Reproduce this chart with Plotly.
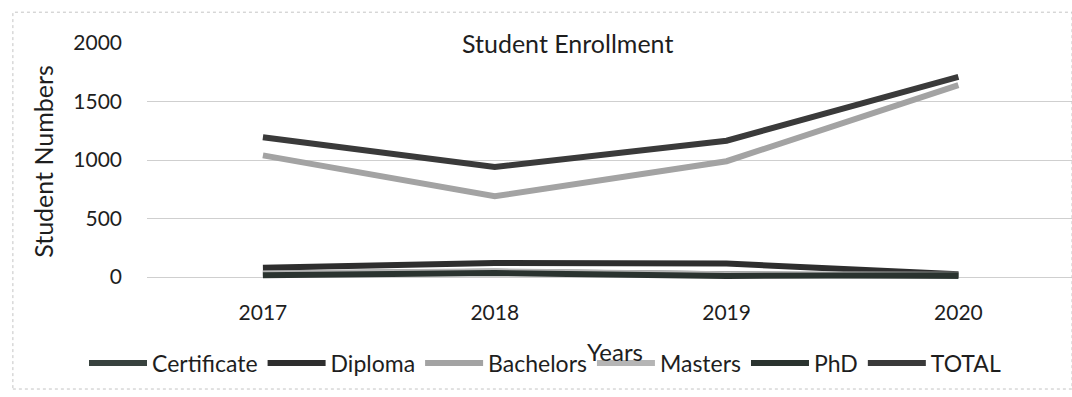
import plotly.graph_objects as go

years = ["2017", "2018", "2019", "2020"]
certificate = [30, 45, 25, 10]
diploma = [80, 120, 115, 25]
bachelors = [1040, 690, 990, 1640]
masters = [30, 50, 25, 20]
phd = [15, 35, 10, 15]
total = [1195, 940, 1165, 1710]

y_ticks = [0, 500, 1000, 1500, 2000]

series = [
    ("Certificate", certificate, "#38423e"),
    ("Diploma", diploma, "#2e2e2e"),
    ("Bachelors", bachelors, "#a3a3a3"),
    ("Masters", masters, "#b5b5b5"),
    ("PhD", phd, "#2a332f"),
    ("TOTAL", total, "#3a3a3a"),
]

FONT = "Lato"
TXT = "#1e1e1e"

fig = go.Figure()
for name, vals, color in series:
    fig.add_trace(go.Scatter(
        x=years, y=vals, name=name, mode="lines",
        line=dict(color=color, width=6),
    ))

fig.update_layout(
    width=1072, height=397,
    margin=dict(l=147, r=0, t=43, b=117),
    paper_bgcolor="white", plot_bgcolor="white",
    font=dict(family=FONT, size=20, color=TXT),
    showlegend=True,
    legend=dict(orientation="h", xref="container", yref="container",
                x=84 / 1072, xanchor="left", y=(397 - 363) / 397, yanchor="middle",
                font=dict(family=FONT, size=23, color=TXT), itemwidth=58,
                bgcolor="rgba(0,0,0,0)"),
    xaxis=dict(type="category", range=[-0.5, 3.49], showgrid=False, showline=False,
               zeroline=False, ticks="", tickfont=dict(family=FONT, size=21, color=TXT),
               ticklabelstandoff=18),
    yaxis=dict(range=[-25, 2000], tickvals=y_ticks, showgrid=True, gridcolor="#cfcfcf",
               gridwidth=1, zeroline=False, showline=False, ticks="",
               tickfont=dict(family=FONT, size=21, color=TXT), ticklabelstandoff=24,
               title=dict(text="Student Numbers", standoff=12,
                          font=dict(family=FONT, size=25, color=TXT))),
)

# chart title sits on the top gridline with an opaque box
fig.add_annotation(text="Student Enrollment", xref="paper", yref="paper",
                   x=0.455, y=1.0, xanchor="center", yanchor="middle", showarrow=False,
                   bgcolor="white", borderpad=2,
                   font=dict(family=FONT, size=25, color=TXT))

fig.add_annotation(text="Years", xref="paper", yref="paper", x=0.506, y=-0.30,
                   xanchor="center", yanchor="middle", showarrow=False,
                   font=dict(family=FONT, size=24, color=TXT))

fig.add_shape(type="rect", xref="paper", yref="paper", x0=-0.145, x1=1.0, y0=-0.46, y1=1.13,
              line=dict(color="#c4c4c4", width=1, dash="dot"))

fig.write_html("out.html")
